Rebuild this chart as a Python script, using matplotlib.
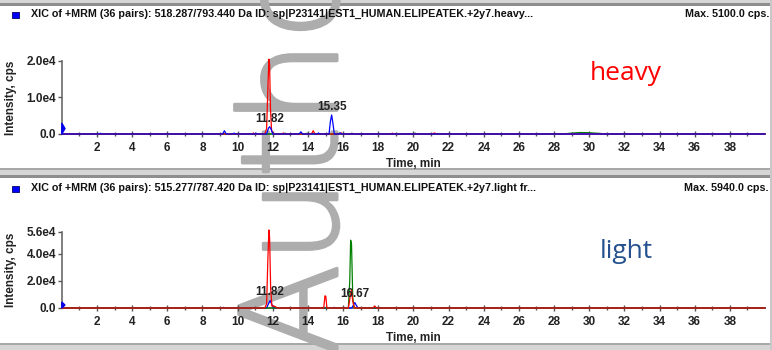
import matplotlib
matplotlib.use('Agg')
import matplotlib.pyplot as plt
from matplotlib.patches import Rectangle
from matplotlib import font_manager as fm
import matplotlib.patheffects as pe

# ---------------- data ----------------
x_ticks = [2, 4, 6, 8, 10, 12, 14, 16, 18, 20, 22, 24, 26, 28, 30, 32, 34, 36, 38]

top_title = "XIC of +MRM (36 pairs): 518.287/793.440 Da ID: sp|P23141|EST1_HUMAN.ELIPEATEK.+2y7.heavy..."
top_max = "Max. 5100.0 cps."
bot_title = "XIC of +MRM (36 pairs): 515.277/787.420 Da ID: sp|P23141|EST1_HUMAN.ELIPEATEK.+2y7.light fr..."
bot_max = "Max. 5940.0 cps."

top_yticks = [0, 10000, 20000]
top_ylabels = ["0.0", "1.0e4", "2.0e4"]
bot_yticks = [0, 20000, 40000, 56000]
bot_ylabels = ["0.0", "2.0e4", "4.0e4", "5.6e4"]

# heavy panel traces
heavy_red_t = [0, 10.85, 10.9, 10.95, 11.55, 11.65, 11.72, 11.78, 11.82, 11.87, 11.93, 12.0, 12.1,
               12.55, 12.6, 12.65, 14.2, 14.3, 14.4, 15.85, 15.9, 15.95, 18.75, 18.8, 18.85,
               21.1, 21.2, 21.3, 40]
heavy_red_i = [0, 0, 300, 0, 0, 1500, 12000, 20500, 19000, 7000, 1200, 200, 0,
               0, 300, 0, 0, 900, 0, 0, 300, 0, 0, 250, 0,
               0, 300, 0, 0]
heavy_blue_t = [0, 2.15, 2.2, 2.25, 9.15, 9.25, 9.35, 9.75, 9.8, 9.85, 11.0, 11.05, 11.1,
                11.65, 11.75, 11.82, 11.9, 12.0, 13.5, 13.6, 13.7, 14.55, 14.6, 14.65,
                15.2, 15.28, 15.35, 15.42, 15.5, 15.8, 15.85, 15.9, 40]
heavy_blue_i = [0, 0, 200, 0, 0, 900, 0, 0, 250, 0, 0, 200, 0,
                0, 1500, 2000, 1400, 0, 0, 600, 0, 0, 300, 0,
                0, 3500, 5200, 3000, 0, 0, 300, 0, 0]
heavy_green_t = [0, 12.65, 12.7, 12.75, 13.9, 13.95, 14.0, 15.75, 15.8, 15.85, 16.45, 16.5, 16.55,
                 20.05, 20.1, 20.15, 28.5, 29.0, 29.5, 30.0, 30.5, 31.0, 40]
heavy_green_i = [0, 0, 250, 0, 0, 250, 0, 0, 300, 0, 0, 250, 0,
                 0, 250, 0, 0, 250, 400, 350, 200, 0, 0]
heavy_start_t = [0.0, 0.0, 0.18]
heavy_start_i = [0, 3000, 1500]

# light panel traces
light_red_t = [0, 11.55, 11.65, 11.72, 11.78, 11.82, 11.88, 11.95, 12.05, 12.15, 12.25,
               14.9, 14.97, 15.02, 15.08, 16.3, 16.4, 16.48, 16.55, 16.65, 17.7, 17.8, 17.9, 40]
light_red_i = [0, 0, 3000, 35000, 57500, 52000, 15000, 1500, 1500, 1000, 0,
               0, 9000, 8500, 0, 0, 8000, 13500, 5000, 0, 0, 1500, 0, 0]
light_green_t = [0, 16.3, 16.38, 16.43, 16.48, 16.55, 16.62, 40]
light_green_i = [0, 0, 20000, 50000, 47000, 8000, 0, 0]
light_blue_t = [0, 9.15, 9.2, 9.25, 11.65, 11.75, 11.85, 11.95, 12.05, 15.45, 15.5, 15.55,
                16.5, 16.6, 16.67, 16.75, 16.85, 40]
light_blue_i = [0, 0, 500, 0, 0, 3000, 5500, 2500, 0, 0, 500, 0,
                0, 2500, 4000, 2000, 0, 0]
light_start_t = [0.0, 0.0, 0.18]
light_start_i = [0, 4400, 2200]

top_labels = [(11.82, 2000, "11.82"), (15.35, 5200, "15.35")]
bot_labels = [(11.82, 5500, "11.82"), (16.67, 4000, "16.67")]

# ---------------- fonts ----------------
names = {f.name for f in fm.fontManager.ttflist}
narrow = 'Liberation Sans Narrow' if 'Liberation Sans Narrow' in names else 'Liberation Sans'
UI = [narrow, 'Liberation Sans', 'DejaVu Sans']

W, H = 772, 350
fig = plt.figure(figsize=(W / 100, H / 100), dpi=100)
fig.patch.set_facecolor('white')


def rect(x0, y0, x1, y1, color):
    fig.patches.append(Rectangle((x0 / W, 1 - y1 / H), (x1 - x0) / W, (y1 - y0) / H,
                                 transform=fig.transFigure, facecolor=color,
                                 edgecolor='none', zorder=-5))


# window chrome
rect(0, 0, W, 3, '#d6d6d6')
rect(0, 3, W, 5.5, '#8e8e8e')
rect(0, 168, W, 170, '#a8a8a8')
rect(0, 170, W, 175, '#d6d6d6')
rect(0, 175, W, 177.5, '#8e8e8e')
rect(0, 343, W, 344.5, '#a8a8a8')
rect(0, 344.5, W, H, '#d6d6d6')
rect(769.5, 0, W, H, '#c8c8c8')

# watermark
wm_color = '#adadad'
fig.text(337 / W, 1 - 356 / H, "Author", rotation=90, rotation_mode='anchor',
         ha='left', va='baseline', fontsize=97, color=wm_color,
         family='DejaVu Sans', fontweight='light', zorder=-1,
         path_effects=[pe.withStroke(linewidth=2.2, foreground=wm_color)])

x0, x1 = 61.8, 765.0


def make_panel(ytop, ybot, ymax, yticks, ylabels, traces, start, labels, title, maxtxt, off):
    ax = fig.add_axes([x0 / W, 1 - ybot / H, (x1 - x0) / W, (ybot - ytop) / H])
    ax.set_facecolor('none')
    ax.set_xlim(0, 40)
    ax.set_ylim(0, ymax)
    for s in ['top', 'right']:
        ax.spines[s].set_visible(False)
    for s in ['left', 'bottom']:
        ax.spines[s].set_color('#6a6a6a')
        ax.spines[s].set_linewidth(1.2)
    ax.set_xticks(x_ticks)
    ax.set_xticklabels([str(t) for t in x_ticks])
    ax.set_xticks([t - 1 for t in x_ticks] + [39], minor=True)
    ax.set_yticks(yticks)
    ax.set_yticklabels(ylabels)
    ax.tick_params(axis='x', which='major', direction='inout', length=4, width=1,
                   color='#555555', pad=3.5)
    ax.tick_params(axis='x', which='minor', direction='inout', length=2.5, width=1,
                   color='#555555')
    ax.tick_params(axis='y', which='major', direction='out', length=3, width=1,
                   color='#555555', pad=1)
    for lab in ax.get_xticklabels() + ax.get_yticklabels():
        lab.set_family(UI)
        lab.set_fontweight('bold')
        lab.set_fontsize(8.5)
        lab.set_color('#222222')
    ax.set_xlabel("Time, min", family=UI, fontweight='bold', fontsize=8.5,
                  color='#222222', labelpad=3)
    ax.set_ylabel("Intensity, cps", family=UI, fontweight='bold', fontsize=8.5,
                  color='#222222')
    ax.yaxis.set_label_coords(-(x0 - 17) / (x1 - x0), 0.5)
    for t, i, c in traces:
        ax.plot(t, i, color=c, lw=0.9, clip_on=False, zorder=3)
    ax.fill(start[0], start[1], color='#0000ee', clip_on=False, zorder=4)
    for xv, yv, s in labels:
        ax.annotate(s, (xv, yv), xytext=(0, 1.5), textcoords='offset points',
                    ha='center', va='bottom', family=UI, fontweight='bold',
                    fontsize=8.5, color='#222222', zorder=5)
    # header
    fig.patches.append(Rectangle((12 / W, 1 - (17.5 + off) / H), 6.5 / W, 6 / H,
                                 transform=fig.transFigure, facecolor='#0000ff',
                                 edgecolor='#000066', lw=0.6, zorder=2))
    fig.text(31 / W, 1 - (14 + off) / H, title, ha='left', va='center', family=UI,
             fontweight='bold', fontsize=7.75, color='#111111')
    fig.text(769 / W, 1 - (14 + off) / H, maxtxt, ha='right', va='center', family=UI,
             fontweight='bold', fontsize=7.75, color='#111111')
    return ax


make_panel(61, 134, 20000, top_yticks, top_ylabels,
           [(heavy_green_t, heavy_green_i, '#008000'),
            (heavy_red_t, heavy_red_i, '#ff0000'),
            (heavy_blue_t, heavy_blue_i, '#0000ff')],
           (heavy_start_t, heavy_start_i), top_labels, top_title, top_max, 0)
make_panel(232, 308, 56000, bot_yticks, bot_ylabels,
           [(light_blue_t, light_blue_i, '#0000ff'),
            (light_green_t, light_green_i, '#008000'),
            (light_red_t, light_red_i, '#ff0000')],
           (light_start_t, light_start_i), bot_labels, bot_title, bot_max, 174)

fig.text(626 / W, 1 - 80 / H, "heavy", ha='center', va='baseline', family='Open Sans',
         fontsize=19, color='#ff0000')
fig.text(626 / W, 1 - 258 / H, "light", ha='center', va='baseline', family='Open Sans',
         fontsize=19, color='#25528f')

fig.savefig('out.png', dpi=100)
